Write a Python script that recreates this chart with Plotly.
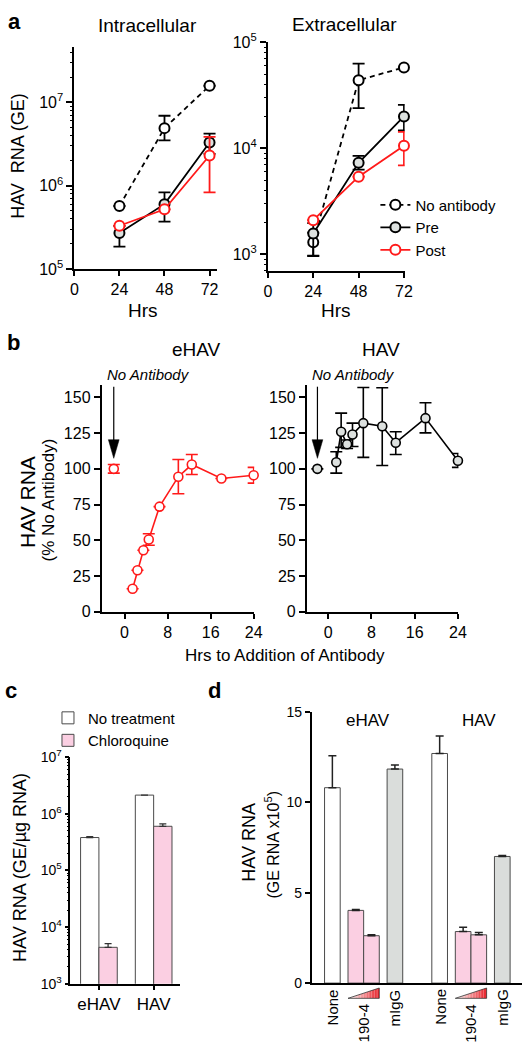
import plotly.graph_objects as go

W, H = 530, 1050
def X(p): return p / W
def Y(p): return 1 - p / H

FONT = "Liberation Sans, Arial, Helvetica, sans-serif"
RED = "#ff1a1a"
GREY_FILL = "#dde1df"
PINK = "#fbcfe2"
MIGG = "#dadddb"

# ---------------- data: panel a ----------------
hrs_a = [24, 48, 72]
intra_noab = [5.7e5, 4.9e6, 1.58e7]
intra_noab_ep = [0, 2.0e6, 0]
intra_noab_em = [0, 1.4e6, 0]
intra_pre = [2.7e5, 6.0e5, 3.3e6]
intra_pre_ep = [0.6e5, 2.3e5, 0.9e6]
intra_pre_em = [0.84e5, 2.3e5, 0.9e6]
intra_post = [3.3e5, 5.2e5, 2.3e6]
intra_post_ep = [0, 0, 1.55e6]
intra_post_em = [0, 0, 1.47e6]

extra_noab = [1.3e3, 4.4e4, 5.8e4]
extra_noab_ep = [0.3e3, 1.9e4, 0]
extra_noab_em = [0.34e3, 2.0e4, 0]
extra_pre = [1.57e3, 7.3e3, 2.0e4]
extra_pre_ep = [0.4e3, 1.2e3, 5.7e3]
extra_pre_em = [0.6e3, 1.0e3, 5.2e3]
extra_post = [2.1e3, 5.4e3, 1.06e4]
extra_post_ep = [0, 0, 3.7e3]
extra_post_em = [0, 0, 3.7e3]

# ---------------- data: panel b ----------------
hrs_b = [1.5, 2.4, 3.5, 4.5, 6.5, 10, 12.5, 18, 24]
ref_hr = [-2]
ref_pct = [100]
ehav_ref_err = [3]
ehav_pct = [16, 29, 43, 50.5, 73.5, 94.5, 103, 93.2, 95.5]
ehav_err = [0, 0, 0, 4, 0, 12, 7, 0, 5.5]
hav_pct = [104.6, 126, 117.2, 124, 132, 129.8, 118.3, 135.5, 105.7]
hav_err_p = [7.4, 13, 3, 8, 25, 27, 7.7, 10.8, 5]
hav_err_m = [7.6, 11, 3, 8.4, 24, 27.5, 8.3, 10.3, 4.7]

# ---------------- data: panel c ----------------
c_groups = ["eHAV", "HAV"]
c_none = [3.8e5, 2.13e6]
c_none_err = [1.5e4, 0]
c_chloro = [4.4e3, 6.0e5]
c_chloro_err = [0.7e3, 0.6e5]

# ---------------- data: panel d ----------------
d_cats = ["None", "190-4", "mIgG"]
d_single_cats = ["None", "mIgG"]
d_ehav_single = [10.8, 11.83]
d_ehav_single_err = [1.77, 0.23]
d_ehav_low, d_ehav_low_err = [4.02], [0.05]
d_ehav_high, d_ehav_high_err = [2.62], [0.05]
d_hav_single = [12.69, 7.0]
d_hav_single_err = [0.96, 0.05]
d_hav_low, d_hav_low_err = [2.85], [0.24]
d_hav_high, d_hav_high_err = [2.67], [0.13]

fig = go.Figure()

# ---------- panel a traces ----------
def a_trace(x, y, ep, em, color, fill, dash, xa, ya, name, show):
    return go.Scatter(
        x=x, y=y, mode="lines+markers", name=name, showlegend=show, legend="legend",
        line=dict(color=color, width=1.8, dash=dash),
        marker=dict(size=10, color=fill, line=dict(color=color, width=2)),
        error_y=dict(type="data", array=ep, arrayminus=em, symmetric=False,
                     color=color, thickness=1.8, width=6),
        xaxis=xa, yaxis=ya, cliponaxis=False)

fig.add_trace(a_trace(hrs_a, intra_noab, intra_noab_ep, intra_noab_em, "black", "white", "5px,4px", "x", "y", "No antibody", False))
fig.add_trace(a_trace(hrs_a, intra_pre, intra_pre_ep, intra_pre_em, "black", GREY_FILL, "solid", "x", "y", "Pre", False))
fig.add_trace(a_trace(hrs_a, intra_post, intra_post_ep, intra_post_em, RED, "white", "solid", "x", "y", "Post", False))
fig.add_trace(a_trace(hrs_a, extra_noab, extra_noab_ep, extra_noab_em, "black", "white", "5px,4px", "x2", "y2", "No antibody", True))
fig.add_trace(a_trace(hrs_a, extra_pre, extra_pre_ep, extra_pre_em, "black", GREY_FILL, "solid", "x2", "y2", "Pre", True))
fig.add_trace(a_trace(hrs_a, extra_post, extra_post_ep, extra_post_em, RED, "white", "solid", "x2", "y2", "Post", True))

# ---------- panel b traces ----------
def b_trace(x, y, ep, em, color, fill, xa, ya, mode="lines+markers"):
    return go.Scatter(
        x=x, y=y, mode=mode, showlegend=False,
        line=dict(color=color, width=1.6),
        marker=dict(size=9, color=fill, line=dict(color=color, width=1.6)),
        error_y=dict(type="data", array=ep, arrayminus=em, symmetric=False,
                     color=color, thickness=1.6, width=6),
        xaxis=xa, yaxis=ya, cliponaxis=False)

fig.add_trace(b_trace(ref_hr, ref_pct, ehav_ref_err, ehav_ref_err, RED, "white", "x3", "y3", "markers"))
fig.add_trace(b_trace(hrs_b, ehav_pct, ehav_err, ehav_err, RED, "white", "x3", "y3"))
fig.add_trace(b_trace(ref_hr, ref_pct, [0], [0], "black", GREY_FILL, "x4", "y4", "markers"))
fig.add_trace(b_trace(hrs_b, hav_pct, hav_err_p, hav_err_m, "black", GREY_FILL, "x4", "y4"))

# ---------- panel c traces ----------
BAR_LINE = dict(color="#4a4a4a", width=1)
fig.add_trace(go.Bar(x=c_groups, y=c_none, name="No treatment", legend="legend2",
                     width=0.335, offset=-0.335, marker=dict(color="white", line=BAR_LINE),
                     error_y=dict(type="data", array=c_none_err, arrayminus=[0, 0], symmetric=False,
                                  color="#333", thickness=1.3, width=3.5),
                     xaxis="x5", yaxis="y5"))
fig.add_trace(go.Bar(x=c_groups, y=c_chloro, name="Chloroquine", legend="legend2",
                     width=0.335, offset=0, marker=dict(color=PINK, line=BAR_LINE),
                     error_y=dict(type="data", array=c_chloro_err, arrayminus=[0, 0], symmetric=False,
                                  color="#333", thickness=1.3, width=3.5),
                     xaxis="x5", yaxis="y5"))

# ---------- panel d traces ----------
def d_bar(x, y, err, colors, xa, width=0.5, offset=None):
    return go.Bar(x=x, y=y, showlegend=False, width=width, offset=offset,
                  marker=dict(color=colors, line=BAR_LINE),
                  error_y=dict(type="data", array=err, arrayminus=[0] * len(err), symmetric=False,
                               color="#222", thickness=1.5, width=4),
                  xaxis=xa, yaxis="y6")

fig.add_trace(d_bar(d_single_cats, d_ehav_single, d_ehav_single_err, ["white", MIGG], "x6"))
fig.add_trace(d_bar(["190-4"], d_ehav_low, d_ehav_low_err, [PINK], "x6", offset=-0.5))
fig.add_trace(d_bar(["190-4"], d_ehav_high, d_ehav_high_err, [PINK], "x6", offset=0))
fig.add_trace(d_bar(d_single_cats, d_hav_single, d_hav_single_err, ["white", MIGG], "x7"))
fig.add_trace(d_bar(["190-4"], d_hav_low, d_hav_low_err, [PINK], "x7", offset=-0.5))
fig.add_trace(d_bar(["190-4"], d_hav_high, d_hav_high_err, [PINK], "x7", offset=0))

# empty traces so the overlaid minor-tick axes are drawn
for ya, xa in (("y8", "x"), ("y9", "x2"), ("y10", "x5")):
    fig.add_trace(go.Scatter(x=[], y=[], xaxis=xa, yaxis=ya, showlegend=False, hoverinfo="skip"))

# ---------- axes ----------
def lin_ax(dom, rng, anchor, lw=2, **kw):
    d = dict(domain=[X(dom[0]), X(dom[1])], range=rng, anchor=anchor,
             showline=True, linecolor="black", linewidth=lw, ticks="outside",
             ticklen=5, tickwidth=lw, tickcolor="black", showgrid=False, zeroline=False,
             tickfont=dict(size=16, color="black", family=FONT))
    d.update(kw)
    return d

def y_ax(dom, rng, anchor, lw=2, **kw):
    d = dict(domain=[Y(dom[0]), Y(dom[1])], range=rng, anchor=anchor,
             showline=True, linecolor="black", linewidth=lw, ticks="outside",
             ticklen=6, tickwidth=lw, tickcolor="black", showgrid=False, zeroline=False,
             tickfont=dict(size=16, color="black", family=FONT))
    d.update(kw)
    return d

def minor_ax(base, rng, vals, anchor, lw=1.2, ln=3):
    return dict(overlaying=base, anchor=anchor, type="log", range=rng, tickvals=vals,
                showticklabels=False, ticks="outside", ticklen=ln, tickwidth=lw,
                tickcolor="black", showline=False, showgrid=False, zeroline=False, side="left")

def pow_labels(lo, hi):
    vals = [10 ** k for k in range(lo, hi + 1)]
    txt = ["10<sup>%d</sup>" % k for k in range(lo, hi + 1)]
    minors = [m * 10 ** k for k in range(lo - 1, hi + 1) for m in range(2, 10)]
    return vals, txt, minors

v, t, mn = pow_labels(5, 7)
fig.update_layout(
    xaxis=lin_ax((72, 218), [0, 76], "y", tickvals=[0, 24, 48, 72]),
    yaxis=y_ax((263, 37), [5, 7.66], "x", type="log", tickvals=v, ticktext=t),
    yaxis8=minor_ax("y", [5, 7.66], mn, "x"),
)
v, t, mn = pow_labels(3, 5)
fig.update_layout(
    xaxis2=lin_ax((270, 410), [0, 72.4], "y2", tickvals=[0, 24, 48, 72]),
    yaxis2=y_ax((265, 32), [2.843, 5], "x2", type="log", tickvals=v, ticktext=t),
    yaxis9=minor_ax("y2", [2.843, 5], mn, "x2"),
)
fig.update_layout(
    xaxis3=lin_ax((100, 256), [-4.24, 24.1], "y3", tickvals=[0, 8, 16, 24]),
    yaxis3=y_ax((612.3, 381.7), [0, 158.4], "x3", tickvals=[0, 25, 50, 75, 100, 125, 150]),
    xaxis4=lin_ax((310, 465), [-3.92, 24.1], "y4", tickvals=[0, 8, 16, 24]),
    yaxis4=y_ax((612.3, 381.7), [0, 158.4], "x4", tickvals=[0, 25, 50, 75, 100, 125, 150]),
)
v, t, mn = pow_labels(3, 7)
fig.update_layout(
    xaxis5=lin_ax((68, 180), [-0.52, 1.48], "y5", lw=1.8, type="category", ticklen=4,
                  tickfont=dict(size=17, color="black", family=FONT)),
    yaxis5=y_ax((991.7, 760.5), [3, 7], "x5", lw=1.8, type="log", tickvals=v, ticktext=t, ticklen=4,
                tickfont=dict(size=14, color="black", family=FONT)),
    yaxis10=minor_ax("y5", [3, 7], mn, "x5", lw=1, ln=2.5),
    xaxis6=lin_ax((315, 423), [-0.656, 2.72], "y6", lw=1.8, type="category",
                  categoryorder="array", categoryarray=d_cats, ticks="", showticklabels=False),
    xaxis7=lin_ax((423, 530), [-0.71, 2.63], "y6", lw=1.8, type="category",
                  categoryorder="array", categoryarray=d_cats, ticks="", showticklabels=False),
    yaxis6=y_ax((991, 714.3), [0, 15], "x6", lw=1.8, tickvals=[0, 5, 10, 15], ticklen=5,
                tickfont=dict(size=14, color="black", family=FONT)),
)

# ---------- annotations ----------
ann = []
def txt(x, y, s, size, bold=False, italic=False, angle=0, xa="center", ya="middle"):
    if bold:
        s = "<b>%s</b>" % s
    if italic:
        s = "<i>%s</i>" % s
    ann.append(dict(x=X(x), y=Y(y), xref="paper", yref="paper", text=s, showarrow=False,
                    textangle=angle, xanchor=xa, yanchor=ya,
                    font=dict(size=size, color="black", family=FONT)))

txt(11, 11, "a", 22, bold=True)
txt(147, 15, "Intracellular", 19)
txt(348, 14, "Extracellular", 19)
txt(14, 148, "HAV  RNA (GE)", 18, angle=-90)
txt(142, 305, "Hrs", 19)
txt(340, 305, "Hrs", 19)

txt(10, 338, "b", 22, bold=True)
txt(197, 345, "eHAV", 19)
txt(386, 345, "HAV", 19)
txt(148, 371, "No Antibody", 15, italic=True)
txt(358, 371, "No Antibody", 15, italic=True)
txt(24, 500, "HAV RNA", 21, angle=-90)
txt(46, 498, "(% No Antibody)", 17, angle=-90)
txt(288, 657, "Hrs to Addition of Antibody", 17)

txt(7, 693, "c", 22, bold=True)
txt(215, 693, "d", 22, bold=True)
txt(17, 873, "HAV RNA (GE/µg RNA)", 18, angle=-90)

txt(372, 723, "eHAV", 17)
txt(486, 723, "HAV", 17)
txt(250.5, 847, "HAV RNA", 18, angle=-90)
txt(274, 850, "(GE RNA x10<sup>5</sup>)", 16, angle=-90)

# panel d rotated category labels (placed on the category axis positions)
for xa_name in ("x6", "x7"):
    for cat, top in (("None", 995), ("190-4", 1011), ("mIgG", 995)):
        ann.append(dict(x=cat, y=Y(top), xref=xa_name, yref="paper", text=cat, showarrow=False,
                        textangle=-90, xanchor="center", yanchor="top",
                        font=dict(size=15, color="black", family=FONT)))

fig.update_layout(annotations=ann)

# ---------- shapes: arrows and gradient wedges ----------
shapes = []
for ax_x in (112.3, 320.7):
    shapes.append(dict(type="line", xref="paper", yref="paper", x0=X(ax_x), x1=X(ax_x),
                       y0=Y(383), y1=Y(440), line=dict(color="black", width=1.2)))
    shapes.append(dict(type="path", xref="paper", yref="paper",
                       path="M %f %f L %f %f L %f %f Z" % (X(ax_x - 5.5), Y(437), X(ax_x + 5.5), Y(437), X(ax_x), Y(456)),
                       fillcolor="black", line=dict(color="black", width=0.5)))

def cat_px(idx, dom, rng):
    return dom[0] + (idx - rng[0]) / (rng[1] - rng[0]) * (dom[1] - dom[0])

for dom, rng in (((315, 423), (-0.656, 2.72)), ((423, 530), (-0.71, 2.63))):
    x0 = cat_px(0.5, dom, rng)
    x1 = cat_px(1.5, dom, rng)
    yb, yt = 1006.5, 996.0
    N = 20
    for i in range(N):
        xa = x0 + (x1 - x0) * i / N
        xb = x0 + (x1 - x0) * (i + 1) / N
        ya_ = yb - (yb - yt) * i / N
        yb_ = yb - (yb - yt) * (i + 1) / N
        f = (i + 0.5) / N
        r = 255 + (232 - 255) * f
        g = 255 + (28 - 255) * f
        b = 255 + (36 - 255) * f
        col = "rgb(%d,%d,%d)" % (r, g, b)
        shapes.append(dict(type="path", xref="paper", yref="paper",
                           path="M %f %f L %f %f L %f %f L %f %f Z" % (X(xa), Y(yb), X(xb), Y(yb), X(xb), Y(yb_), X(xa), Y(ya_)),
                           fillcolor=col, line=dict(width=0)))
    shapes.append(dict(type="path", xref="paper", yref="paper",
                       path="M %f %f L %f %f L %f %f Z" % (X(x0), Y(yb), X(x1), Y(yb), X(x1), Y(yt)),
                       fillcolor="rgba(0,0,0,0)", line=dict(color="#333", width=0.8)))

fig.update_layout(shapes=shapes)

fig.update_layout(
    width=W, height=H, autosize=False,
    margin=dict(l=0, r=0, t=0, b=0),
    paper_bgcolor="white", plot_bgcolor="rgba(0,0,0,0)",
    barmode="overlay",
    font=dict(family=FONT, color="black"),
    legend=dict(x=X(380), y=Y(181), xanchor="left", yanchor="top", bgcolor="rgba(0,0,0,0)",
                font=dict(size=15, family=FONT, color="black"), itemwidth=30, tracegroupgap=0),
    legend2=dict(x=X(45), y=Y(704), xanchor="left", yanchor="top", bgcolor="rgba(0,0,0,0)",
                 font=dict(size=15, family=FONT, color="black"), itemwidth=30, tracegroupgap=0),
)

fig.write_html("out.html", config={"displayModeBar": False},
               post_script="document.body.style.margin='0px';")
